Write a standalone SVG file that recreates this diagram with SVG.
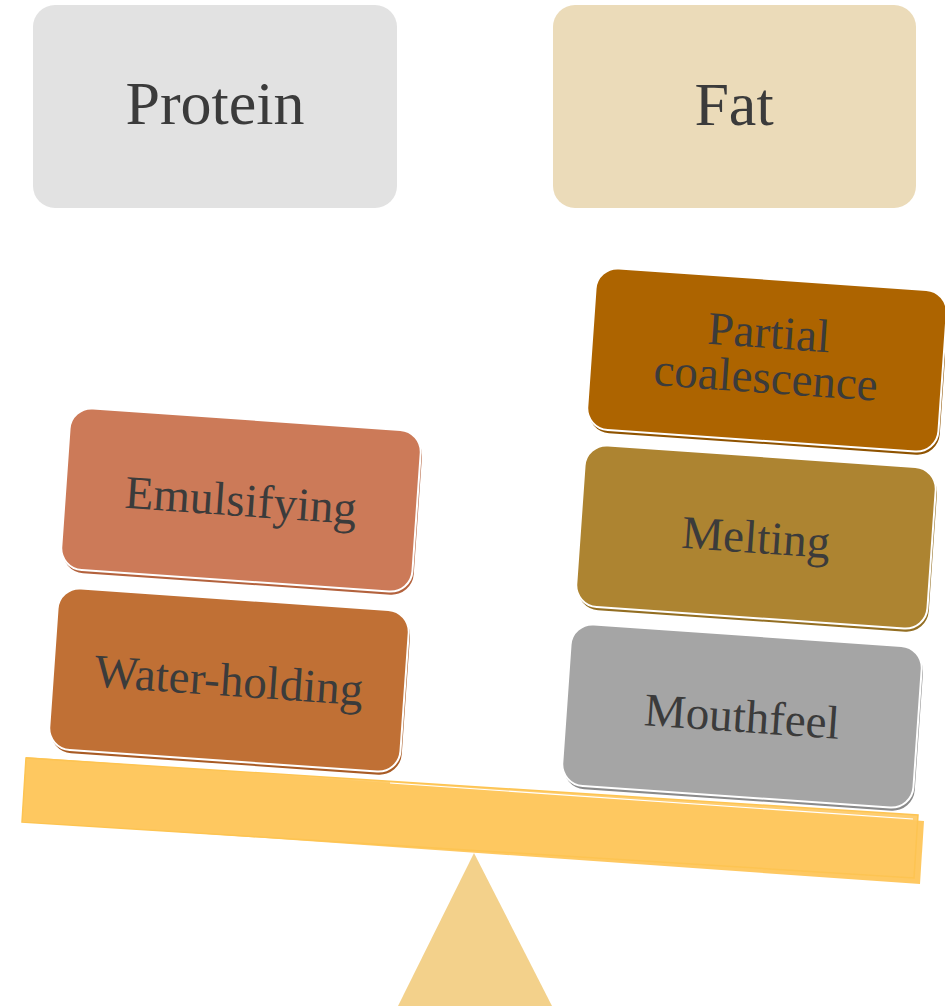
<svg xmlns="http://www.w3.org/2000/svg" width="945" height="1006" viewBox="0 0 945 1006">
  <style>
    .lbl { fill: #3B3B3B; text-anchor: middle; }
    .big { font-size: 62px; }
    .mid { font-size: 47px; }
    .card { stroke: #FFFFFF; stroke-width: 2; }
  </style>
  <defs>
    <rect id="tile" x="-176" y="-81" width="352" height="162" rx="22" ry="22"/>
  </defs>
  <rect width="945" height="1006" fill="#FFFFFF"/>

  <g id="protein">
    <rect x="33" y="5" width="364" height="203" rx="22" ry="22" fill="#E2E2E2"/>
    <text class="lbl big" font-family="Liberation Serif, DejaVu Serif, serif" x="215" y="124">Protein</text>
  </g>
  <g id="fat">
    <rect x="553" y="5" width="363" height="203" rx="22" ry="22" fill="#EBDBB9"/>
    <text class="lbl big" font-family="Liberation Serif, DejaVu Serif, serif" x="734" y="125">Fat</text>
  </g>

  <g id="balance">
    <polygon points="474,853 398,1006 552,1006" fill="#F3D18B"/>
    <polygon points="26,757 924,821 920,884 22,821" fill="#FEC861"/>
    <polygon points="26,758 918,815 914,878 22,822" fill="#FEC861" fill-opacity="0.9" stroke="#FDC452" stroke-width="1.5"/>
    <line x1="390" y1="783" x2="913" y2="819" stroke="#FFFFFF" stroke-width="1.2"/>
  </g>

  <g id="emulsifying" transform="translate(241,500) rotate(4)">
    <use href="#tile" x="1.5" y="3" fill="#B3623D"/>
    <use href="#tile" class="card" fill="#CC7A58"/>
    <text class="lbl mid" font-family="Liberation Serif, DejaVu Serif, serif" x="0" y="16">Emulsifying</text>
  </g>
  <g id="water-holding" transform="translate(229,680) rotate(4)">
    <use href="#tile" x="1.5" y="3" fill="#A85B25"/>
    <use href="#tile" class="card" fill="#C07035"/>
    <text class="lbl mid" font-family="Liberation Serif, DejaVu Serif, serif" x="0" y="16">Water-holding</text>
  </g>
  <g id="partial-coalescence" transform="translate(767,360) rotate(4)">
    <use href="#tile" x="1.5" y="3" fill="#8F5300"/>
    <use href="#tile" class="card" fill="#AD6400"/>
    <text class="lbl mid" font-family="Liberation Serif, DejaVu Serif, serif" x="0" y="-12">Partial</text>
    <text class="lbl mid" font-family="Liberation Serif, DejaVu Serif, serif" x="0" y="33">coalescence</text>
  </g>
  <g id="melting" transform="translate(756,537) rotate(4)">
    <use href="#tile" x="1.5" y="3" fill="#936E22"/>
    <use href="#tile" class="card" fill="#AD8431"/>
    <text class="lbl mid" font-family="Liberation Serif, DejaVu Serif, serif" x="0" y="16">Melting</text>
  </g>
  <g id="mouthfeel" transform="translate(742,716) rotate(4)">
    <use href="#tile" x="1.5" y="3" fill="#8A8A8A"/>
    <use href="#tile" class="card" fill="#A5A5A5"/>
    <text class="lbl mid" font-family="Liberation Serif, DejaVu Serif, serif" x="0" y="16">Mouthfeel</text>
  </g>
</svg>
